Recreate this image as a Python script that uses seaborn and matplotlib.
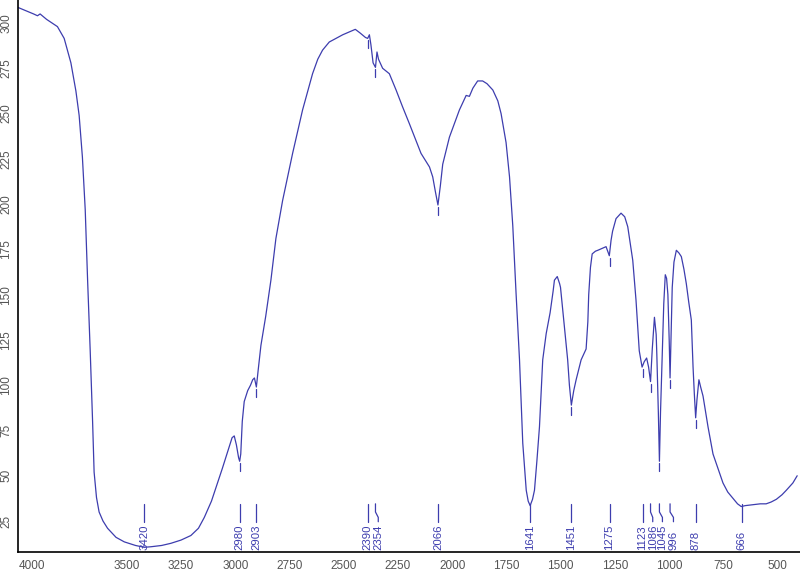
import matplotlib
matplotlib.use("Agg")
import matplotlib.pyplot as plt
import pandas as pd
import seaborn as sns

# ---- data -------------------------------------------------------------
wavenumber = [4000, 3960, 3930, 3912, 3900, 3870, 3820, 3789, 3758, 3735, 3720, 3705,
              3692, 3681, 3669, 3658, 3651, 3640, 3628, 3610, 3589, 3550, 3512, 3460,
              3420, 3389, 3340, 3297, 3250, 3205, 3170, 3143, 3110, 3082, 3060, 3036,
              3015, 3005, 2995, 2985, 2980, 2975, 2968, 2959, 2943, 2930, 2920, 2912,
              2903, 2895, 2882, 2860, 2836, 2813, 2782, 2736, 2690, 2644, 2620, 2598,
              2567, 2505, 2447, 2425, 2400, 2390, 2382, 2375, 2365, 2354, 2347, 2340,
              2321, 2290, 2259, 2230, 2198, 2170, 2144, 2105, 2090, 2078, 2066, 2055,
              2044, 2013, 1967, 1936, 1921, 1905, 1883, 1860, 1840, 1813, 1790, 1775,
              1752, 1736, 1721, 1706, 1690, 1675, 1659, 1650, 1641, 1630, 1621, 1610,
              1598, 1583, 1567, 1549, 1535, 1529, 1516, 1505, 1501, 1483, 1468, 1460,
              1451, 1440, 1429, 1406, 1383, 1375, 1371, 1363, 1355, 1340, 1329, 1300,
              1291, 1276, 1268, 1261, 1245, 1222, 1205, 1191, 1168, 1153, 1138, 1125,
              1115, 1104, 1095, 1086, 1078, 1068, 1060, 1057, 1050, 1045, 1040, 1032,
              1025, 1018, 1012, 1006, 1000, 996, 992, 986, 978, 967, 955, 944,
              932, 921, 910, 898, 890, 884, 878, 872, 863, 855, 844, 821,
              798, 775, 752, 730, 706, 685, 668, 650, 614, 580, 553, 530,
              506, 480, 460, 430, 410]
transmittance = [308.5, 306.5, 305, 304, 305, 302, 298, 291.5, 278, 262.5, 249, 226,
                 197, 158, 119, 80, 52, 38, 30, 25, 21, 16, 13.5, 11.5,
                 10.5, 10.8, 11.5, 12.7, 14.5, 17, 21, 27, 36, 46, 54, 63,
                 71, 72, 67, 60, 58, 62, 80, 91, 97, 100, 103, 104,
                 99, 108, 122, 138, 158, 181, 202, 228, 252, 272, 280, 285,
                 289.5, 293.5, 296.5, 294.5, 292, 291.5, 293.5, 288, 278, 275.5, 284, 280,
                 275, 272, 263, 254, 244.5, 236, 228, 220.5, 215, 207, 199.5, 210,
                 222, 237, 252, 260, 259.5, 264, 268, 268, 266.5, 263, 257, 250,
                 234, 215, 188, 151, 114, 68, 42, 36, 33.5, 37, 42, 58,
                 77, 114, 128.5, 140, 152, 158, 160, 156, 154, 132, 114, 100,
                 89, 97, 103, 114, 120, 135, 150, 165, 172.5, 174, 174.5, 176,
                 176.5, 171.5, 180, 185, 192, 195, 193, 187.5, 169, 147, 119, 110,
                 113, 115, 110, 102, 120, 137.5, 128, 117, 85, 58, 85, 118,
                 145, 161, 159, 150, 125, 104, 125, 154, 168, 174.5, 173, 171,
                 164, 156, 146, 136, 110, 95, 82, 92, 103, 99, 94, 77,
                 62, 54, 46, 41, 37.5, 34.5, 33, 33.5, 34, 34.5, 34.5, 35.5,
                 37, 39.5, 42, 46, 50]

peak_wn = [3420, 2980, 2903, 2390, 2354, 2066, 1641, 1451, 1275, 1123, 1086, 1045, 996, 878, 666]
peak_min = [10.5, 58, 99, 291.5, 275.5, 199.5, 33.5, 89, 171.5, 110, 102, 58, 104, 82, 33]
peak_labels = [str(p) for p in peak_wn]

xticks = [4000, 3500, 3250, 3000, 2750, 2500, 2250, 2000, 1750, 1500, 1250, 1000, 750, 500]
yticks = [25, 50, 75, 100, 125, 150, 175, 200, 225, 250, 275, 300]

# ---- style / layout ---------------------------------------------------
BLUE = "#3d3dae"
GRAY = "#555555"
label_shift_px = [0, 0, 0, 0, 2.8, 0, 0, 0, 0, 0, 2.2, 3.0, 3.4, 0, 0]
with_mark = [False, True, True, True, True, True, False, True, True, True, True, True, True, True, False]

sns.set_theme(style="white")
plt.rcParams["font.family"] = ["Liberation Sans", "DejaVu Sans"]

fig = plt.figure(figsize=(8, 5.75), dpi=100)
ax = fig.add_axes([0.023, 0.04, 0.977, 0.96])

df = pd.DataFrame({"wn": wavenumber, "T": transmittance})
sns.lineplot(data=df, x="wn", y="T", ax=ax, color=BLUE, linewidth=0.9, sort=False)

XLO, XHI = 4000, 397
YLO, YHI = 7.9, 312.7
ax.set_xlim(XLO, XHI)
ax.set_ylim(YLO, YHI)
ax.set_xlabel("")
ax.set_ylabel("")

# conversion helpers (pixel -> data units)
px_per_wn = 0.977 * 800 / (XLO - XHI)
px_per_T = 0.96 * 575 / (YHI - YLO)

for wn, vmin, lab, dx, mk in zip(peak_wn, peak_min, peak_labels, label_shift_px, with_mark):
    lx = wn - dx / px_per_wn
    top = 34.5
    ax.plot([wn, wn, lx, lx], [top, top - 4.5, top - 7.5, 24.6], color=BLUE, lw=0.9)
    ax.text(lx, 9.0, lab, rotation=90, ha="center", va="bottom",
            fontsize=8.2, color=BLUE)
    if mk:
        ax.plot([wn, wn], [vmin - 2.0 / px_per_T, vmin - 10.0 / px_per_T], color=BLUE, lw=0.9)

sns.despine(ax=ax, top=True, right=True)
for s in ("left", "bottom"):
    ax.spines[s].set_color("black")
    ax.spines[s].set_linewidth(1.2)

ax.set_xticks(xticks)
ax.set_xticklabels([str(t) for t in xticks])
ax.set_yticks(yticks)
ax.set_yticklabels([str(t) for t in yticks], rotation=90, va="center")
ax.tick_params(axis="both", which="both", direction="out", length=3, width=1,
               color="black", labelsize=8.5, labelcolor=GRAY)
ax.tick_params(axis="x", pad=3)
ax.tick_params(axis="y", pad=1.5)
ax.get_xticklabels()[0].set_horizontalalignment("left")
ax.grid(False)

fig.savefig("out.png", dpi=100, facecolor="white")
